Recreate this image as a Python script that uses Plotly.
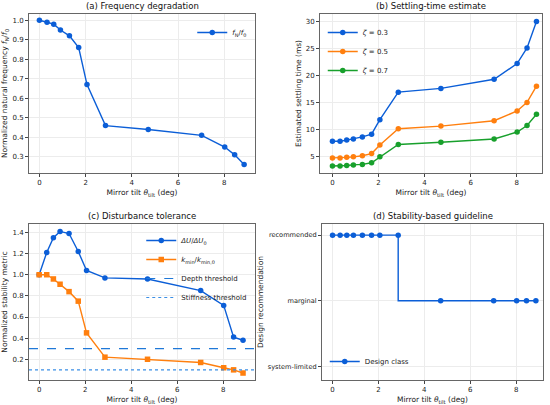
import plotly.graph_objects as go

# ---------------- data ----------------
tilt = [0.0, 0.33, 0.62, 0.91, 1.3, 1.7, 2.06, 2.86, 4.71, 7.02, 8.02, 8.45, 8.86]
freq_ratio = [1.0, 0.99, 0.98, 0.95, 0.92, 0.86, 0.67, 0.46, 0.44, 0.41, 0.35, 0.31, 0.26]

ts_03 = [7.8, 7.8, 8.0, 8.2, 8.6, 9.1, 11.8, 16.9, 17.6, 19.3, 22.2, 25.1, 30.0]
ts_05 = [4.7, 4.7, 4.8, 4.9, 5.1, 5.5, 7.1, 10.1, 10.6, 11.6, 13.4, 15.0, 18.0]
ts_07 = [3.2, 3.2, 3.3, 3.4, 3.5, 3.8, 4.9, 7.2, 7.6, 8.2, 9.5, 10.7, 12.8]

dU_ratio = [1.0, 1.21, 1.35, 1.41, 1.39, 1.22, 1.04, 0.97, 0.96, 0.85, 0.71, 0.41, 0.38]
kmin_ratio = [1.0, 1.0, 0.96, 0.91, 0.84, 0.75, 0.45, 0.22, 0.20, 0.17, 0.12, 0.10, 0.07]
depth_threshold = 0.3
stiffness_threshold = 0.1

class_levels = ["system-limited", "marginal", "recommended"]
design_class = ["recommended"] * 8 + ["marginal"] * 5
design_code = [class_levels.index(c) for c in design_class]

# ---------------- style ----------------
BLUE = "#0b5ed7"
ORANGE = "#ff7f0e"
GREEN = "#18a02c"
THR1 = "#1f78d8"
THR2 = "#3b8fe6"
FONT = "DejaVu Sans"
W, H = 550, 405

def px(x):
    return x / W

def py(y):
    return 1 - y / H

fig = go.Figure()

dom = {
    "a": ([px(29), px(255)], [py(173), py(14)]),
    "b": ([px(320), px(542)], [py(173), py(14)]),
    "c": ([px(29), px(255)], [py(380), py(224)]),
    "d": ([px(322), px(543)], [py(380), py(224)]),
}

axis_common = dict(
    automargin=False,
    showline=True, mirror=True, linecolor="#666", linewidth=1,
    showgrid=True, gridcolor="#ececec", gridwidth=0.6,
    ticks="outside", ticklen=3, tickcolor="#444",
    zeroline=False,
)
tf = dict(size=7, family=FONT, color="#222")

xtitle = "Mirror tilt <i>θ</i><sub>tilt</sub> (deg)"
ttl_font = dict(size=7.5, family=FONT, color="#222")

# (a)
fig.add_trace(go.Scatter(x=tilt, y=freq_ratio, mode="lines+markers",
                         line=dict(color=BLUE, width=1.4), marker=dict(color=BLUE, size=5.5),
                         name="<i>f</i><sub>N</sub>/<i>f</i><sub>0</sub>",
                         xaxis="x", yaxis="y", legend="legend"))
# (b)
for vals, col, lab in [(ts_03, BLUE, "0.3"), (ts_05, ORANGE, "0.5"), (ts_07, GREEN, "0.7")]:
    fig.add_trace(go.Scatter(x=tilt, y=vals, mode="lines+markers",
                             line=dict(color=col, width=1.4), marker=dict(color=col, size=5.5),
                             name="<i>ζ</i> = " + lab, xaxis="x2", yaxis="y2", legend="legend2"))
# (c)
fig.add_trace(go.Scatter(x=tilt, y=dU_ratio, mode="lines+markers",
                         line=dict(color=BLUE, width=1.4), marker=dict(color=BLUE, size=5.5),
                         name="<i>ΔU</i>/<i>ΔU</i><sub>0</sub>", xaxis="x3", yaxis="y3", legend="legend3"))
fig.add_trace(go.Scatter(x=tilt, y=kmin_ratio, mode="lines+markers",
                         line=dict(color=ORANGE, width=1.4),
                         marker=dict(color=ORANGE, size=5.5, symbol="square"),
                         name="<i>k</i><sub>min</sub>/<i>k</i><sub>min,0</sub>",
                         xaxis="x3", yaxis="y3", legend="legend3"))
fig.add_trace(go.Scatter(x=[-0.44, 9.38], y=[depth_threshold] * 2, mode="lines",
                         line=dict(color=THR1, width=1.2, dash="dash"),
                         name="Depth threshold", xaxis="x3", yaxis="y3", legend="legend3"))
fig.add_trace(go.Scatter(x=[-0.44, 9.38], y=[stiffness_threshold] * 2, mode="lines",
                         line=dict(color=THR2, width=1.2, dash="dot"),
                         name="Stiffness threshold", xaxis="x3", yaxis="y3", legend="legend3"))
# (d)
fig.add_trace(go.Scatter(x=tilt, y=design_code, mode="lines+markers",
                         line=dict(color=BLUE, width=1.4, shape="vh"),
                         marker=dict(color=BLUE, size=5.5),
                         name="Design class", xaxis="x4", yaxis="y4", legend="legend4"))

tick_x = dict(tickvals=[0, 2, 4, 6, 8])

leg_common = dict(bgcolor="rgba(255,255,255,0)", font=dict(size=7, family=FONT, color="#222"),
                  itemwidth=30, tracegroupgap=0)

fig.update_layout(
    width=W, height=H, margin=dict(l=0, r=0, t=0, b=0),
    paper_bgcolor="white", plot_bgcolor="white",
    font=dict(family=FONT, size=7, color="#222"),
    showlegend=True,
    xaxis=dict(domain=dom["a"][0], anchor="y", range=[-0.45, 9.33], **tick_x, **axis_common,
               tickfont=tf, title=dict(text=xtitle, font=ttl_font, standoff=3)),
    yaxis=dict(domain=dom["a"][1], anchor="x", range=[0.217, 1.032],
               tickvals=[0.3, 0.4, 0.5, 0.6, 0.7, 0.8, 0.9, 1.0], tickformat=".1f", **axis_common,
               tickfont=tf,
               title=dict(text="Normalized natural frequency <i>f</i><sub>N</sub>/<i>f</i><sub>0</sub>",
                          font=ttl_font, standoff=3)),
    xaxis2=dict(domain=dom["b"][0], anchor="y2", range=[-0.54, 9.1], **tick_x, **axis_common,
                tickfont=tf, title=dict(text=xtitle, font=ttl_font, standoff=3)),
    yaxis2=dict(domain=dom["b"][1], anchor="x2", range=[1.9, 31.4],
                tickvals=[5, 10, 15, 20, 25, 30], **axis_common, tickfont=tf,
                title=dict(text="Estimated settling time (ms)", font=ttl_font, standoff=3)),
    xaxis3=dict(domain=dom["c"][0], anchor="y3", range=[-0.44, 9.38], **tick_x, **axis_common,
                tickfont=tf, title=dict(text=xtitle, font=ttl_font, standoff=3)),
    yaxis3=dict(domain=dom["c"][1], anchor="x3", range=[0.004, 1.48],
                tickvals=[0.2, 0.4, 0.6, 0.8, 1.0, 1.2, 1.4], tickformat=".1f", **axis_common,
                tickfont=tf, title=dict(text="Normalized stability metric", font=ttl_font, standoff=3)),
    xaxis4=dict(domain=dom["d"][0], anchor="y4", range=[-0.46, 9.17], **tick_x, **axis_common,
                tickfont=tf, title=dict(text=xtitle, font=ttl_font, standoff=3)),
    yaxis4=dict(domain=dom["d"][1], anchor="x4", range=[-0.21, 2.17],
                tickvals=[0, 1, 2], ticktext=class_levels, **axis_common,
                tickfont=dict(size=6.6, family=FONT, color="#222"),
                title=dict(text="Design recommendation", font=ttl_font, standoff=3)),
    legend=dict(x=dom["a"][0][1] - 0.005, y=dom["a"][1][1] - 0.01, xanchor="right", yanchor="top",
                **leg_common),
    legend2=dict(x=dom["b"][0][0] + 0.005, y=dom["b"][1][1] - 0.01, xanchor="left", yanchor="top",
                 **leg_common),
    legend3=dict(x=dom["c"][0][1] - 0.005, y=dom["c"][1][1] - 0.005, xanchor="right", yanchor="top",
                 **leg_common),
    legend4=dict(x=dom["d"][0][0] + 0.005, y=dom["d"][1][0] + 0.01, xanchor="left", yanchor="bottom",
                 **leg_common),
)

titles = [("(a) Frequency degradation", dom["a"]), ("(b) Settling-time estimate", dom["b"]),
          ("(c) Disturbance tolerance", dom["c"]), ("(d) Stability-based guideline", dom["d"])]
for t, (dx, dy) in titles:
    fig.add_annotation(text=t, x=(dx[0] + dx[1]) / 2, y=dy[1], xref="paper", yref="paper",
                       xanchor="center", yanchor="bottom", yshift=1, showarrow=False,
                       font=dict(size=8.5, family=FONT, color="#111"))

fig.write_html("out.html", config={"displayModeBar": False},
               post_script="document.body.style.margin='0px';")
